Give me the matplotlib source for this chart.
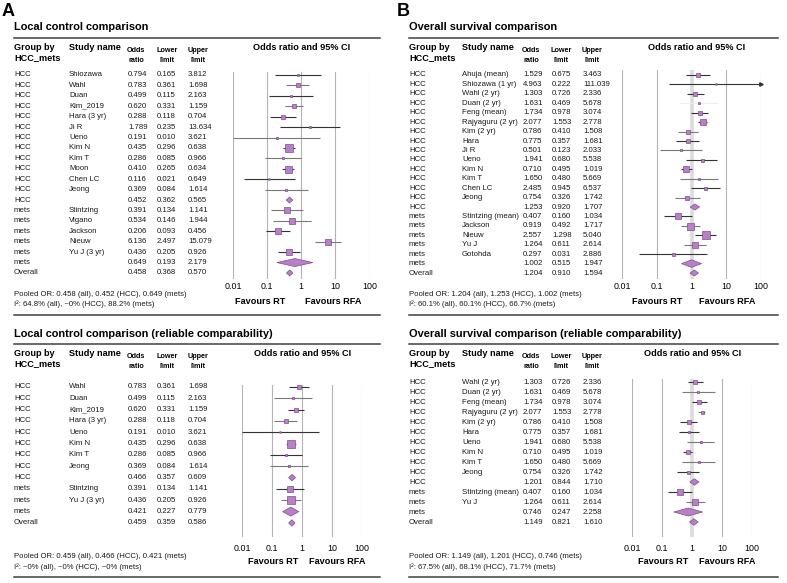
import matplotlib
matplotlib.use('Agg')
import matplotlib.pyplot as plt
from matplotlib.patches import Polygon

plt.rcParams['font.family'] = ['Liberation Sans', 'DejaVu Sans']

# ---------------- data ----------------
a_groups = ['HCC'] * 13 + ['mets'] * 6 + ['Overall']
a_names = ['Shiozawa', 'Wahl', 'Duan', 'Kim_2019', 'Hara (3 yr)', 'Ji R', 'Ueno', 'Kim N', 'Kim T',
           'Moon', 'Chen LC', 'Jeong', '', 'Stintzing', 'Vigano', 'Jackson', 'Nieuw', 'Yu J (3 yr)', '', '']
a_or = [0.794, 0.783, 0.499, 0.620, 0.288, 1.789, 0.191, 0.435, 0.286, 0.410, 0.116, 0.369, 0.452,
        0.391, 0.534, 0.206, 6.136, 0.436, 0.649, 0.458]
a_lo = [0.165, 0.361, 0.115, 0.331, 0.118, 0.235, 0.010, 0.296, 0.085, 0.265, 0.021, 0.084, 0.362,
        0.134, 0.146, 0.093, 2.497, 0.205, 0.193, 0.368]
a_hi = [3.812, 1.698, 2.163, 1.159, 0.704, 13.634, 3.621, 0.638, 0.966, 0.634, 0.649, 1.614, 0.565,
        1.141, 1.944, 0.456, 15.079, 0.926, 2.179, 0.570]

b_groups = ['HCC'] * 15 + ['mets'] * 6 + ['Overall']
b_names = ['Ahuja (mean)', 'Shiozawa (1 yr)', 'Wahl (2 yr)', 'Duan (2 yr)', 'Feng (mean)', 'Rajyaguru (2 yr)',
           'Kim (2 yr)', 'Hara', 'Ji R', 'Ueno', 'Kim N', 'Kim T', 'Chen LC', 'Jeong', '',
           'Stintzing (mean)', 'Jackson', 'Nieuw', 'Yu J', 'Gotohda', '', '']
b_or = [1.529, 4.963, 1.303, 1.631, 1.734, 2.077, 0.786, 0.775, 0.501, 1.941, 0.710, 1.650, 2.485, 0.754,
        1.253, 0.407, 0.919, 2.557, 1.264, 0.297, 1.002, 1.204]
b_lo = [0.675, 0.222, 0.726, 0.469, 0.978, 1.553, 0.410, 0.357, 0.123, 0.680, 0.495, 0.480, 0.945, 0.326,
        0.920, 0.160, 0.492, 1.298, 0.611, 0.031, 0.515, 0.910]
b_hi = [3.463, 111.039, 2.336, 5.678, 3.074, 2.778, 1.508, 1.681, 2.033, 5.538, 1.019, 5.669, 6.537, 1.742,
        1.707, 1.034, 1.717, 5.040, 2.614, 2.886, 1.947, 1.594]

c_groups = ['HCC'] * 9 + ['mets'] * 3 + ['Overall']
c_names = ['Wahl', 'Duan', 'Kim_2019', 'Hara (3 yr)', 'Ueno', 'Kim N', 'Kim T', 'Jeong', '',
           'Stintzing', 'Yu J (3 yr)', '', '']
c_or = [0.783, 0.499, 0.620, 0.288, 0.191, 0.435, 0.286, 0.369, 0.466, 0.391, 0.436, 0.421, 0.459]
c_lo = [0.361, 0.115, 0.331, 0.118, 0.010, 0.296, 0.085, 0.084, 0.357, 0.134, 0.205, 0.227, 0.359]
c_hi = [1.698, 2.163, 1.159, 0.704, 3.621, 0.638, 0.966, 1.614, 0.609, 1.141, 0.926, 0.779, 0.586]

d_groups = ['HCC'] * 11 + ['mets'] * 3 + ['Overall']
d_names = ['Wahl (2 yr)', 'Duan (2 yr)', 'Feng (mean)', 'Rajyaguru (2 yr)', 'Kim (2 yr)', 'Hara', 'Ueno',
           'Kim N', 'Kim T', 'Jeong', '', 'Stintzing (mean)', 'Yu J', '', '']
d_or = [1.303, 1.631, 1.734, 2.077, 0.786, 0.775, 1.941, 0.710, 1.650, 0.754, 1.201, 0.407, 1.264, 0.746, 1.149]
d_lo = [0.726, 0.469, 0.978, 1.553, 0.410, 0.357, 0.680, 0.495, 0.480, 0.326, 0.844, 0.160, 0.611, 0.247, 0.821]
d_hi = [2.336, 5.678, 3.074, 2.778, 1.508, 1.681, 5.538, 1.019, 5.669, 1.742, 1.710, 1.034, 2.614, 2.258, 1.610]

titles = ['Local control comparison', 'Overall survival comparison',
          'Local control comparison (reliable comparability)',
          'Overall survival comparison (reliable comparability)']
footnotes = [
    ('Pooled OR: 0.458 (all), 0.452 (HCC), 0.649 (mets)', 'I²: 64.8% (all), ~0% (HCC), 88.2% (mets)'),
    ('Pooled OR: 1.204 (all), 1.253 (HCC), 1.002 (mets)', 'I²: 60.1% (all), 60.1% (HCC), 66.7% (mets)'),
    ('Pooled OR: 0.459 (all), 0.466 (HCC), 0.421 (mets)', 'I²: ~0% (all), ~0% (HCC), ~0% (mets)'),
    ('Pooled OR: 1.149 (all), 1.201 (HCC), 0.746 (mets)', 'I²: 67.5% (all), 68.1% (HCC), 71.7% (mets)'),
]
tick_vals = [0.01, 0.1, 1, 10, 100]
tick_labels = ['0.01', '0.1', '1', '10', '100']

# marker sizes (px) -- styling
a_ms = [2, 4, 2, 4.5, 4, 2, 2, 7.5, 2, 7, 1.5, 2, 0, 6.5, 6, 6, 6.5, 6, 0, 0]
b_ms = [4.5, 1.5, 4.5, 2.5, 4.5, 5.5, 4.5, 4.5, 2, 3, 5.5, 2.5, 3, 3.5, 0, 6.5, 7, 7.5, 6.5, 3, 0, 0]
c_ms = [4.5, 2, 4.5, 3.5, 1.5, 8, 2, 2, 0, 6.5, 8.5, 0, 0]
d_ms = [3.5, 2, 3.5, 3, 3.5, 2.5, 2.5, 3.5, 2, 3, 0, 6.5, 5.5, 0, 0]
# CI line colours -- styling (some lines render lighter in the reference)
DK, LG, XL = '#333333', '#7a7a7a', '#eeeeee'
a_lc = [DK, LG, DK, LG, DK, DK, LG, DK, LG, DK, DK, LG, DK, LG, LG, DK, LG, DK, DK, DK]
b_lc = [DK, DK, DK, XL, DK, DK, LG, DK, LG, DK, DK, LG, DK, LG, DK, DK, LG, DK, LG, DK, DK, DK]
c_lc = [DK, LG, DK, LG, DK, LG, DK, LG, DK, DK, LG, DK, DK]
d_lc = [DK, LG, DK, LG, DK, DK, LG, DK, LG, DK, DK, DK, LG, DK, DK]

W, H = 787, 583
fig = plt.figure(figsize=(W / 100, H / 100), dpi=100)
ax0 = fig.add_axes([0, 0, 1, 1])
ax0.set_xlim(0, W)
ax0.set_ylim(H, 0)
ax0.axis('off')

FILL = '#b97fc8'
EDGE = '#7d4e8c'
BODY = 5.6


def T(x, y, s, **kw):
    kw.setdefault('fontsize', BODY)
    kw.setdefault('va', 'center')
    kw.setdefault('color', '#1a1a1a')
    ax0.text(x, y, s, **kw)


def panel(groups, names, ors, los, his, ms, lc, title, foot, cfg, letter=None):
    x0 = cfg['x0']
    if letter:
        T(x0 - 12, 11, letter, fontsize=13, fontweight='bold', color='black')
    T(x0, cfg['title_y'], title, fontsize=7.9, fontweight='bold', color='black')
    ax0.plot([x0, cfg['rule_x1']], [cfg['rule_y']] * 2, color='#404040', lw=1.1)
    hy1, hy2 = cfg['hy']
    T(x0, hy1, 'Group by', fontsize=6.6, fontweight='bold', color='black')
    T(x0, hy2, 'HCC_mets', fontsize=6.6, fontweight='bold', color='black')
    T(cfg['xs'], hy1, 'Study name', fontsize=6.6, fontweight='bold', color='black')
    for cx, l1, l2 in zip(cfg['hc'], ['Odds', 'Lower', 'Upper'], ['ratio', 'limit', 'limit']):
        T(cx, hy1 + 3, l1, fontsize=5.2, fontweight='bold', ha='center', color='black')
        T(cx, hy2 + 3, l2, fontsize=5.2, fontweight='bold', ha='center', color='black')
    T(cfg['ci_x'], hy1 - 1, 'Odds ratio and 95% CI', fontsize=6.6, fontweight='bold', ha='center', color='black')

    y0, sp = cfg['row0'], cfg['sp']
    for i, (g, n, o, lo, hi) in enumerate(zip(groups, names, ors, los, his)):
        y = y0 + i * sp
        T(x0, y, g)
        T(cfg['xs'], y, n)
        T(cfg['xv'][0], y, f'{o:.3f}')
        T(cfg['xv'][1], y, f'{lo:.3f}')
        T(cfg['xv'][2], y, f'{hi:.3f}')

    # forest axes
    p1, p2 = cfg['px']
    gt, gb = cfg['grid']
    ax = fig.add_axes([p1 / W, 1 - gb / H, (p2 - p1) / W, (gb - gt) / H])
    ax.patch.set_alpha(0)
    ax.set_xscale('log')
    ax.set_xlim(0.01, 100)
    ax.set_ylim((gb - y0) / sp, (gt - y0) / sp)
    for s in ax.spines.values():
        s.set_visible(False)
    ax.set_yticks([])
    ax.set_xticks(tick_vals, tick_labels)
    ax.minorticks_off()
    ax.tick_params(axis='x', length=0, pad=cfg['pad'], labelsize=6.4)
    for v in tick_vals:
        if v == 1 and cfg['one_light']:
            ax.axvline(v, color='#dcdcdc', lw=2.6, zorder=0)
        else:
            ax.axvline(v, color='#b4b4b4', lw=0.8, zorder=0)
    for i, (g, n, o, lo, hi) in enumerate(zip(groups, names, ors, los, his)):
        if n == '':
            hh = cfg['dh'][0 if g != 'mets' else 1] / 2 / sp
            poly = Polygon([(lo, i), (o, i - hh), (hi, i), (o, i + hh)], closed=True,
                           facecolor=FILL, edgecolor=EDGE, lw=0.5, zorder=3, clip_on=False)
            ax.add_patch(poly)
        else:
            top = min(hi, 100)
            ax.plot([lo, top], [i, i], color=lc[i], lw=0.8, zorder=2, clip_on=False,
                    solid_capstyle='butt')
            if hi > 100:
                ax.plot([100], [i], marker='>', ms=2.5, color=lc[i], zorder=2, clip_on=False)
            ax.plot([o], [i], marker='s', ms=ms[i] * 0.72, mfc=FILL, mec=EDGE, mew=0.5,
                    zorder=3, clip_on=False, ls='none')
    fy = cfg['fav_y']
    T(cfg['fav'][0], fy, 'Favours RT', fontsize=6.6, fontweight='bold', ha='center', color='black')
    T(cfg['fav'][1], fy, 'Favours RFA', fontsize=6.6, fontweight='bold', ha='center', color='black')
    T(x0, cfg['foot_y'][0], foot[0])
    T(x0, cfg['foot_y'][1], foot[1])
    ax0.plot([x0, cfg['rule_x1']], [cfg['bot_y']] * 2, color='#404040', lw=1.1)


cfgA = dict(x0=14, title_y=27, rule_y=37.5, rule_x1=380, hy=(48, 57.5), xs=69, hc=(136, 167, 198),
            xv=(128, 157, 188), ci_x=302, row0=75, sp=10.42, px=(233, 369.5), grid=(72, 279), pad=2.5,
            one_light=False, dh=(6, 8), fav=(260, 333), fav_y=301, foot_y=(294, 304), bot_y=315)
cfgB = dict(x0=409, title_y=27, rule_y=37.5, rule_x1=778, hy=(48, 57.5), xs=462, hc=(531, 561, 592),
            xv=(523, 552, 583), ci_x=697, row0=75, sp=9.43, px=(622, 761), grid=(70, 279), pad=2.5,
            one_light=True, dh=(6, 7.5), fav=(657, 727), fav_y=301, foot_y=(294, 304), bot_y=315)
cfgC = dict(x0=14, title_y=334, rule_y=343.5, rule_x1=380, hy=(354, 364), xs=69, hc=(136, 167, 198),
            xv=(128, 157, 188), ci_x=303, row0=387, sp=11.33, px=(242, 362), grid=(385, 537), pad=5,
            one_light=False, dh=(6.5, 9), fav=(273, 337), fav_y=562, foot_y=(557, 567), bot_y=577)
cfgD = dict(x0=409, title_y=334, rule_y=343.5, rule_x1=778, hy=(354, 364), xs=462, hc=(531, 561, 592),
            xv=(523, 552, 583), ci_x=693, row0=382, sp=10.0, px=(632, 752), grid=(379, 537), pad=5,
            one_light=True, dh=(6.5, 8), fav=(663, 727), fav_y=562, foot_y=(557, 567), bot_y=577)

panel(a_groups, a_names, a_or, a_lo, a_hi, a_ms, a_lc, titles[0], footnotes[0], cfgA, letter='A')
panel(b_groups, b_names, b_or, b_lo, b_hi, b_ms, b_lc, titles[1], footnotes[1], cfgB, letter='B')
panel(c_groups, c_names, c_or, c_lo, c_hi, c_ms, c_lc, titles[2], footnotes[2], cfgC)
panel(d_groups, d_names, d_or, d_lo, d_hi, d_ms, d_lc, titles[3], footnotes[3], cfgD)

fig.savefig('out.png', dpi=100)
